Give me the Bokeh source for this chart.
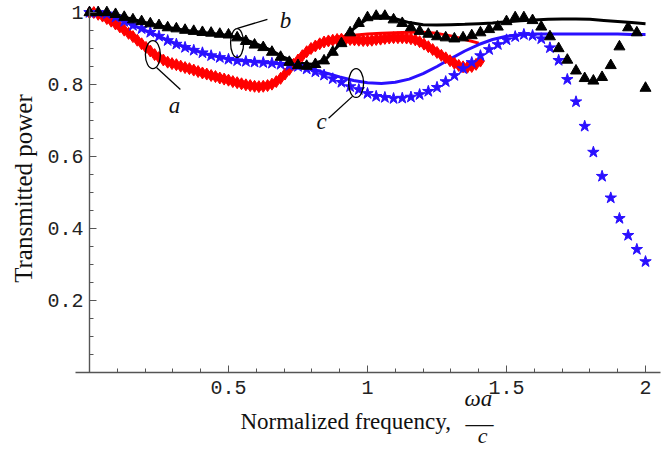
import math
from bokeh.plotting import figure
from bokeh.models import Range1d, FixedTicker, Label
from bokeh.embed import file_html
from bokeh.resources import INLINE

# ---------------- data ----------------
freq_line = [round(0.05 * i, 2) for i in range(41)]
freq_line_a = freq_line[:29]
line_a = [1.0, 0.99, 0.966, 0.938, 0.905, 0.875, 0.858, 0.846, 0.835, 0.823,
          0.811, 0.801, 0.795, 0.8, 0.825, 0.865, 0.9, 0.922, 0.932, 0.937,
          0.94, 0.942, 0.944, 0.945, 0.945, 0.942, 0.935, 0.925, 0.915]
line_b = [1.0, 1.0, 0.993, 0.982, 0.972, 0.963, 0.956, 0.95, 0.945, 0.941,
          0.936, 0.927, 0.913, 0.896, 0.875, 0.86, 0.856, 0.87, 0.912, 0.955,
          0.983, 0.99, 0.983, 0.972, 0.966, 0.965, 0.966, 0.967, 0.969, 0.971,
          0.974, 0.977, 0.979, 0.981, 0.982, 0.982, 0.981, 0.978, 0.975, 0.972,
          0.969]
line_c = [1.0, 0.997, 0.985, 0.967, 0.95, 0.934, 0.917, 0.902, 0.889, 0.879,
          0.871, 0.866, 0.863, 0.86, 0.856, 0.851, 0.843, 0.832, 0.821, 0.811,
          0.805, 0.803, 0.806, 0.815, 0.83, 0.85, 0.872, 0.893, 0.911, 0.925,
          0.934, 0.938, 0.94, 0.94, 0.94, 0.94, 0.94, 0.94, 0.94, 0.939, 0.939]

pts_a = [1.0, 1.0, 0.995, 0.99, 0.983, 0.976, 0.968, 0.96, 0.951, 0.942,
         0.933, 0.923, 0.913, 0.903, 0.893, 0.883, 0.875, 0.868, 0.862, 0.858,
         0.855, 0.851, 0.847, 0.844, 0.84, 0.836, 0.832, 0.829, 0.825, 0.822,
         0.818, 0.815, 0.812, 0.808, 0.805, 0.802, 0.799, 0.797, 0.795, 0.794,
         0.795, 0.797, 0.801, 0.808, 0.817, 0.829, 0.842, 0.856, 0.868, 0.88,
         0.891, 0.9, 0.907, 0.913, 0.918, 0.921, 0.923, 0.925, 0.926, 0.926,
         0.925, 0.924, 0.923, 0.922, 0.922, 0.923, 0.925, 0.926, 0.928, 0.929,
         0.93, 0.93, 0.93, 0.929, 0.927, 0.924, 0.919, 0.912, 0.905, 0.897,
         0.889, 0.881, 0.874, 0.866, 0.859, 0.853, 0.849, 0.848, 0.85, 0.856,
         0.865]
freq_pts_a = [k / 64 for k in range(len(pts_a))]

pts_b = [1.0, 1.0, 1.0, 0.995, 0.987, 0.98, 0.975, 0.969, 0.964, 0.958,
         0.955, 0.951, 0.948, 0.945, 0.943, 0.94, 0.938, 0.93, 0.92, 0.91,
         0.903, 0.89, 0.876, 0.862, 0.853, 0.851, 0.856, 0.866, 0.89, 0.914,
         0.944, 0.97, 0.986, 0.99, 0.99, 0.98, 0.97, 0.958, 0.948, 0.94,
         0.933, 0.93, 0.927, 0.93, 0.936, 0.944, 0.953, 0.96, 0.975, 0.986,
         0.986, 0.978, 0.96, 0.933, 0.90, 0.868, 0.838, 0.817, 0.81, 0.82,
         0.853, 0.905, 0.958, 0.944, 0.79]
pts_c = [1.0, 1.0, 0.996, 0.987, 0.975, 0.964, 0.955, 0.945, 0.934, 0.922,
         0.912, 0.903, 0.895, 0.888, 0.88, 0.875, 0.87, 0.866, 0.864, 0.862,
         0.861, 0.859, 0.856, 0.853, 0.85, 0.843, 0.835, 0.826, 0.816, 0.806,
         0.794, 0.786, 0.775, 0.767, 0.764, 0.761, 0.762, 0.765, 0.772, 0.781,
         0.792, 0.808, 0.825, 0.844, 0.861, 0.88, 0.897, 0.911, 0.924, 0.933,
         0.939, 0.936, 0.927, 0.902, 0.867, 0.814, 0.752, 0.684, 0.612, 0.545,
         0.485, 0.428, 0.381, 0.342, 0.308]
freq_pts = [k / 32 for k in range(len(pts_b))]

x_ticks = [0.5, 1.0, 1.5, 2.0]
x_tick_labels = ["0.5", "1", "1.5", "2"]
y_ticks = [0.2, 0.4, 0.6, 0.8, 1.0]
y_tick_labels = ["0.2", "0.4", "0.6", "0.8", "1"]
x_minor = [round(0.1 * i, 2) for i in range(1, 21)]
y_minor = [round(0.05 * i, 2) for i in range(1, 21)]

RED = "#ff0000"
BLUE = "#2a10ff"
BLACK = "#000000"
SERIF = "Liberation Serif"
MONO = "Liberation Mono"

# the frame fills the canvas; axes are pinned at x=0 / y=0 like the original
p = figure(width=663, height=447, output_backend="svg", toolbar_location=None,
           x_range=Range1d(-0.3201, 2.0647), y_range=Range1d(-0.2083, 1.0333),
           min_border_left=0, min_border_right=0, min_border_top=0,
           min_border_bottom=0)
p.outline_line_color = None
p.grid.visible = False
p.background_fill_color = "white"
p.border_fill_color = "white"

xa = p.xaxis[0]
ya = p.yaxis[0]
xa.fixed_location = 0
ya.fixed_location = 0
xa.bounds = (-0.05, 2.054)
ya.bounds = (0, 1.01)

for ax, ticks, labels, minor in ((xa, x_ticks, x_tick_labels, x_minor),
                                 (ya, y_ticks, y_tick_labels, y_minor)):
    ax.ticker = FixedTicker(ticks=ticks, minor_ticks=minor)
    ax.major_label_overrides = dict(zip(ticks, labels))
    ax.axis_line_color = "#555555"
    ax.axis_line_width = 1.4
    ax.major_tick_line_color = "#555555"
    ax.minor_tick_line_color = "#555555"
    ax.major_tick_in = 7
    ax.major_tick_out = 0
    ax.minor_tick_in = 4
    ax.minor_tick_out = 0
    ax.major_label_text_font = MONO
    ax.major_label_text_font_size = "20px"
    ax.major_label_text_color = "#222222"

xa.major_label_standoff = 8
ya.major_label_standoff = 6

# lines
p.line(freq_line_a, line_a, line_color=RED, line_width=3)
p.line(freq_line, line_c, line_color=BLUE, line_width=3)
p.line(freq_line, line_b, line_color=BLACK, line_width=3)

# markers
p.scatter(freq_pts_a, pts_a, marker="diamond", size=12, fill_color=RED,
          line_color=RED)
p.scatter(freq_pts, pts_c, marker="star", size=12, fill_color=BLUE,
          line_color=BLUE)
p.scatter(freq_pts, pts_b, marker="triangle", size=11, fill_color=BLACK,
          line_color=BLACK)

# annotations: ellipses, leader lines, letters
ell_x = [0.228, 0.531, 0.959]
ell_y = [0.883, 0.915, 0.804]
p.ellipse(ell_x, ell_y, width=[0.054, 0.047, 0.054], height=[0.078, 0.08, 0.08],
          fill_color=None, line_color="black", line_width=1.3)
p.segment(x0=[0.241, 0.532, 0.946], y0=[0.847, 0.956, 0.767],
          x1=[0.327, 0.640, 0.860], y1=[0.786, 0.981, 0.706],
          line_color="black", line_width=1.3)
for txt, lx, ly in (("a", 0.306, 0.741), ("b", 0.705, 0.977), ("c", 0.835, 0.697)):
    p.add_layout(Label(x=lx, y=ly, text=txt, text_font=SERIF,
                       text_font_style="italic", text_font_size="23px",
                       text_align="center", text_baseline="alphabetic",
                       text_color="#111111"))

# y axis title
p.add_layout(Label(x=-0.237, y=0.511, text="Transmitted power", angle=math.pi / 2,
                   text_font=SERIF, text_font_size="25px", text_align="center",
                   text_baseline="middle", text_color="#111111"))

# x axis title with the fraction omega a / c
p.add_layout(Label(x=0.543, y=-0.137, text="Normalized frequency,",
                   text_font=SERIF, text_font_size="23px", text_align="left",
                   text_baseline="alphabetic", text_color="#111111"))
p.add_layout(Label(x=1.399, y=-0.073, text="ωa", text_font=SERIF,
                   text_font_style="italic", text_font_size="23px",
                   text_align="center", text_baseline="alphabetic",
                   text_color="#111111"))
p.add_layout(Label(x=1.403, y=-0.139, text="—", text_font=SERIF,
                   text_font_size="28px", text_align="center",
                   text_baseline="alphabetic", text_color="#111111"))
p.add_layout(Label(x=1.414, y=-0.175, text="c", text_font=SERIF,
                   text_font_style="italic", text_font_size="22px",
                   text_align="center", text_baseline="alphabetic",
                   text_color="#111111"))

open("out.html", "w").write(file_html(p, INLINE))
